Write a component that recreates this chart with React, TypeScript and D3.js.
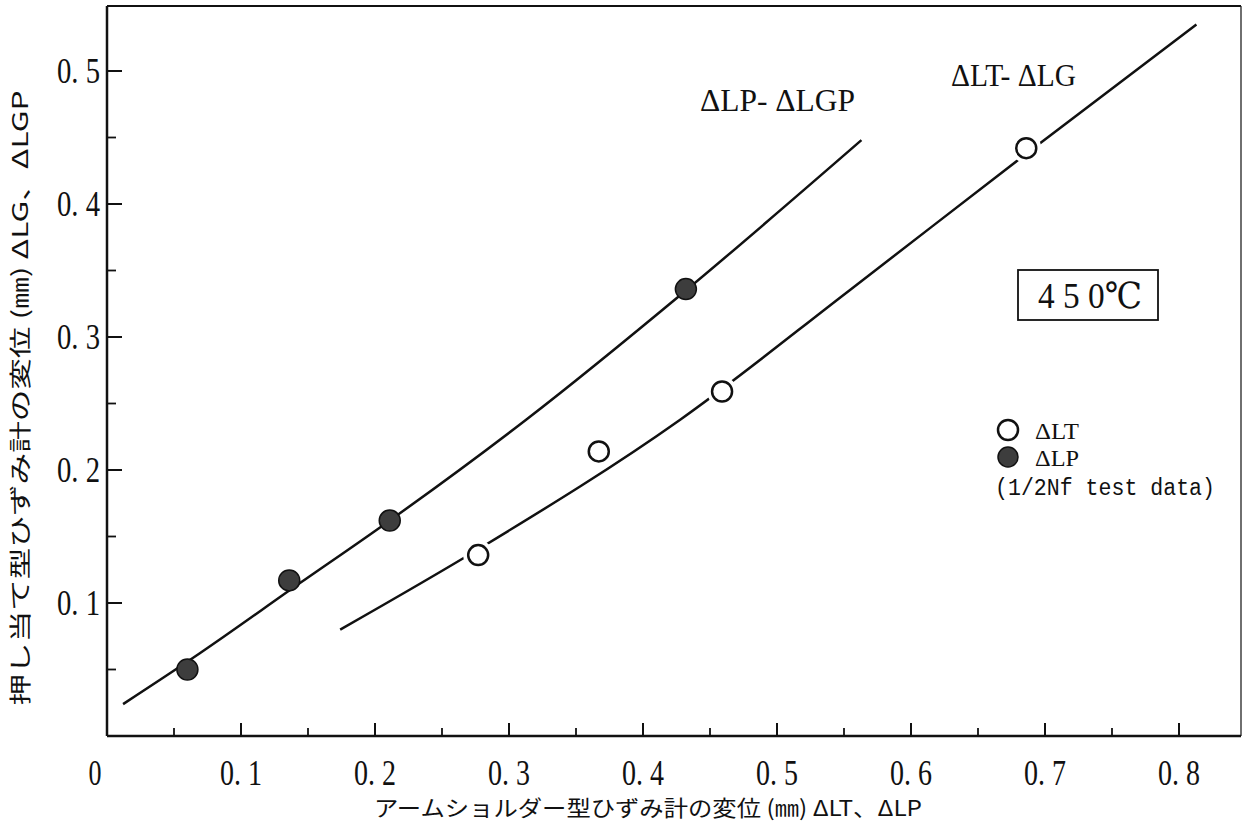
import React from 'react';
import * as d3 from 'd3';

// ΔLP (filled) test data, 1/2Nf
const lpX = [0.06, 0.136, 0.211, 0.432];
const lpY = [0.05, 0.117, 0.162, 0.336];

// ΔLT (open) test data
const ltX = [0.277, 0.367, 0.459, 0.686];
const ltY = [0.136, 0.214, 0.259, 0.442];

// fitted curves
const curveLpX = [0.012, 0.069, 0.144, 0.204, 0.313, 0.432, 0.563];
const curveLpY = [0.024, 0.062, 0.115, 0.157, 0.238, 0.335, 0.448];
const curveLtX = [0.174, 0.278, 0.428, 0.554, 0.685, 0.813];
const curveLtY = [0.08, 0.141, 0.238, 0.335, 0.437, 0.535];

const xTicks = [0.1, 0.2, 0.3, 0.4, 0.5, 0.6, 0.7, 0.8];
const xMinor = [0.05, 0.15, 0.25, 0.35, 0.45, 0.55, 0.65, 0.75];
const yTicks = [0.1, 0.2, 0.3, 0.4, 0.5];
const yMinor = [0.05, 0.15, 0.25, 0.35, 0.45];

const W = 1251;
const H = 832;
const numFont = "'Liberation Serif', 'DejaVu Serif', serif";
const monoFont = "'Liberation Mono', 'DejaVu Sans Mono', monospace";
const jpFont = "'Noto Sans CJK JP', 'Noto Sans', sans-serif";

const App = () => {
  const x = d3.scaleLinear().domain([0, 0.85]).range([107, 107 + 1340 * 0.85]);
  const y = d3.scaleLinear().domain([0, 0.55]).range([736, 736 - 1330 * 0.55]);

  const line = d3.line<number[]>()
    .x(d => x(d[0]))
    .y(d => y(d[1]))
    .curve(d3.curveMonotoneX);

  const lpCurve = curveLpX.map((v, i) => [v, curveLpY[i]]);
  const ltCurve = curveLtX.map((v, i) => [v, curveLtY[i]]);

  const left = x(0);
  const bottom = y(0);
  const top = 6;
  const right = 1241;

  const fmt = (v: number) => v.toFixed(1).replace('.', '. ');

  return (
    <svg width={W} height={H} style={{ position: 'absolute', left: 0, top: 0, background: '#fff' }}>
      {/* frame */}
      <line x1={left} y1={top} x2={right} y2={top} stroke="#111" strokeWidth={2} />
      <line x1={right} y1={top} x2={right} y2={bottom} stroke="#222" strokeWidth={1.3} />
      <line x1={left} y1={top} x2={left} y2={bottom} stroke="#111" strokeWidth={2.5} />
      <line x1={left} y1={bottom} x2={right} y2={bottom} stroke="#111" strokeWidth={2.5} />

      {/* x ticks */}
      {xTicks.map(t => (
        <g key={'xt' + t}>
          <line x1={x(t)} x2={x(t)} y1={bottom} y2={bottom - 13} stroke="#111" strokeWidth={2} />
          <text x={x(t)} y={785} textAnchor="middle" fontFamily={numFont} fontSize={35}
            textLength={42} lengthAdjust="spacingAndGlyphs" fill="#111">{fmt(t)}</text>
        </g>
      ))}
      {xMinor.map(t => (
        <line key={'xm' + t} x1={x(t)} x2={x(t)} y1={bottom} y2={bottom - 8} stroke="#111" strokeWidth={1.8} />
      ))}
      <text x={95} y={785} textAnchor="middle" fontFamily={numFont} fontSize={35}
        textLength={13} lengthAdjust="spacingAndGlyphs" fill="#111">0</text>

      {/* y ticks */}
      {yTicks.map(t => (
        <g key={'yt' + t}>
          <line x1={left} x2={left + 15} y1={y(t)} y2={y(t)} stroke="#111" strokeWidth={2} />
          <text x={100} y={y(t) + 12} textAnchor="end" fontFamily={numFont} fontSize={35}
            textLength={43} lengthAdjust="spacingAndGlyphs" fill="#111">{fmt(t)}</text>
        </g>
      ))}
      {yMinor.map(t => (
        <line key={'ym' + t} x1={left} x2={left + 9} y1={y(t)} y2={y(t)} stroke="#111" strokeWidth={1.8} />
      ))}

      {/* axis titles */}
      <text x={648} y={816} textAnchor="middle" fontFamily={jpFont} fontSize={22}
        textLength={548} lengthAdjust="spacingAndGlyphs" fill="#111">
        アームショルダー型ひずみ計の変位 (㎜) ΔLT、ΔLP
      </text>
      <text transform="translate(28,398) rotate(-90)" textAnchor="middle" fontFamily={jpFont} fontSize={22}
        textLength={615} lengthAdjust="spacingAndGlyphs" fill="#111">
        押し当て型ひずみ計の変位 (㎜) ΔLG、ΔLGP
      </text>

      {/* curves */}
      <path d={line(lpCurve) || ''} fill="none" stroke="#111" strokeWidth={2.5} />
      <path d={line(ltCurve) || ''} fill="none" stroke="#111" strokeWidth={2.5} />

      {/* open markers with white gap */}
      {ltX.map((v, i) => (
        <g key={'lt' + i}>
          <circle cx={x(v)} cy={y(ltY[i])} r={15} fill="#fff" />
          <circle cx={x(v)} cy={y(ltY[i])} r={10} fill="#fff" stroke="#111" strokeWidth={2.5} />
        </g>
      ))}
      {lpX.map((v, i) => (
        <circle key={'lp' + i} cx={x(v)} cy={y(lpY[i])} r={10.5} fill="#3d3d3d" stroke="#111" strokeWidth={1.5} />
      ))}

      {/* curve labels */}
      <text x={700} y={111} fontFamily={numFont} fontSize={31} textLength={155}
        lengthAdjust="spacingAndGlyphs" fill="#111">ΔLP- ΔLGP</text>
      <text x={951} y={86} fontFamily={numFont} fontSize={31} textLength={125}
        lengthAdjust="spacingAndGlyphs" fill="#111">ΔLT- ΔLG</text>

      {/* temperature box */}
      <rect x={1018} y={270} width={140} height={50} fill="#fff" stroke="#111" strokeWidth={1.8} />
      <text x={1090} y={308} textAnchor="middle" fontFamily={numFont} fontSize={36} textLength={104}
        lengthAdjust="spacingAndGlyphs" fill="#111">4 5 0℃</text>

      {/* legend */}
      <circle cx={1008} cy={430} r={10} fill="#fff" stroke="#111" strokeWidth={2.5} />
      <text x={1035} y={439} fontFamily={numFont} fontSize={24} textLength={44}
        lengthAdjust="spacingAndGlyphs" fill="#111">ΔLT</text>
      <circle cx={1008} cy={457} r={10} fill="#3d3d3d" stroke="#111" strokeWidth={1.5} />
      <text x={1035} y={466} fontFamily={numFont} fontSize={24} textLength={44}
        lengthAdjust="spacingAndGlyphs" fill="#111">ΔLP</text>
      <text x={995} y={495} fontFamily={monoFont} fontSize={23} textLength={220}
        lengthAdjust="spacingAndGlyphs" fill="#111">(1/2Nf test data)</text>
    </svg>
  );
};

export default App;
